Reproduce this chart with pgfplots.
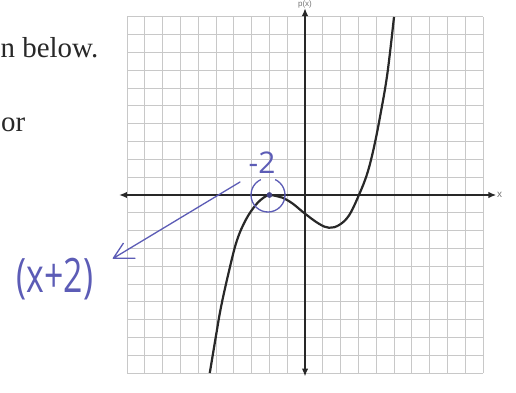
\documentclass[border=0pt]{standalone}
\usepackage{pgfplots}
\pgfplotsset{compat=1.18}
\usepackage{fontspec}
\setmainfont{Liberation Serif}
\newfontfamily\labelfont{Liberation Sans}
\newfontfamily\handfont{Open Sans}
\usetikzlibrary{arrows.meta}

\definecolor{ink}{RGB}{92,92,182}
\definecolor{gridgray}{RGB}{200,200,200}
\definecolor{print}{RGB}{40,40,40}

\begin{document}
\begin{tikzpicture}[x=1bp,y=1bp]
\path[use as bounding box] (0,0) rectangle (516,392);
\clip (0,0) rectangle (516,392);
\fill[white] (0,0) rectangle (516,392);

% printed worksheet text at the left
\node[anchor=base west, inner sep=0, text=print, font=\fontsize{29}{32}\selectfont] at (0.5,335) {n below.};
\node[anchor=base west, inner sep=0, text=print, font=\fontsize{29}{32}\selectfont] at (1,260.5) {or};

\begin{axis}[
  at={(305bp,197bp)}, anchor=origin,
  x=17.8bp, y=17.8bp,
  xmin=-10.45, xmax=10.75, ymin=-10.2, ymax=10.5,
  axis lines=middle,
  axis on top,
  axis line style={print, line width=1.8bp, {Latex[length=8bp,width=6.5bp]}-{Latex[length=8bp,width=6.5bp]}},
  xtick=\empty, ytick=\empty,
  clip=false,
]
% square grid from -10 to 10 in both directions
\pgfplotsinvokeforeach{-10,...,10}{
  \draw[gridgray, line width=1bp] (axis cs:#1,-10) -- (axis cs:#1,10);
  \draw[gridgray, line width=1bp] (axis cs:-10,#1) -- (axis cs:10,#1);
}

% p(x): double root at -2, single root at 3
\addplot[print, line width=2.2bp, smooth, tension=0.6] coordinates {
  (-5.35,-10.00) (-5.00,-7.90) (-4.72,-6.30) (-4.30,-4.40) (-3.84,-2.60)
  (-3.33,-1.40) (-2.77,-0.56) (-2.30,-0.13) (-2.00,0.00) (-1.60,-0.06)
  (-1.27,-0.15) (-0.71,-0.47) (0.00,-1.05) (0.79,-1.62) (1.35,-1.84)
  (1.91,-1.69) (2.47,-1.15) (3.03,0.00) (3.50,1.22) (3.88,2.71)
  (4.25,4.59) (4.63,6.84) (5.00,10.00)
};

% marked zero at x = -2
\addplot[only marks, mark=*, mark size=2.6bp, color=ink!75!black] coordinates {(-2,0)};
\end{axis}

% axis names
\node[anchor=west, inner sep=0, text=black!55, font=\labelfont\fontsize{10}{12}\selectfont] at (497,197) {x};
\node[anchor=base, inner sep=0, text=black!55, font=\labelfont\fontsize{8}{9}\selectfont] at (305,385.5) {p(x)};

% pen annotations
\draw[ink, line width=1.3bp] (268,197) ++(115:17) arc[start angle=115, end angle=425, radius=17];
\node[ink, inner sep=0, font=\handfont\fontsize{30}{32}\selectfont] at (262,229) {-2};
\draw[ink, line width=1.3bp, line cap=round, line join=round]
  (240,210) -- (113.3,133.7) -- (123.3,148.7)
  (113.3,133.7) -- (135,133.7);
\node[ink, inner sep=0, yscale=1.4, font=\handfont\fontsize{34}{36}\selectfont] at (55,113) {(x+2)};
\end{tikzpicture}
\end{document}
